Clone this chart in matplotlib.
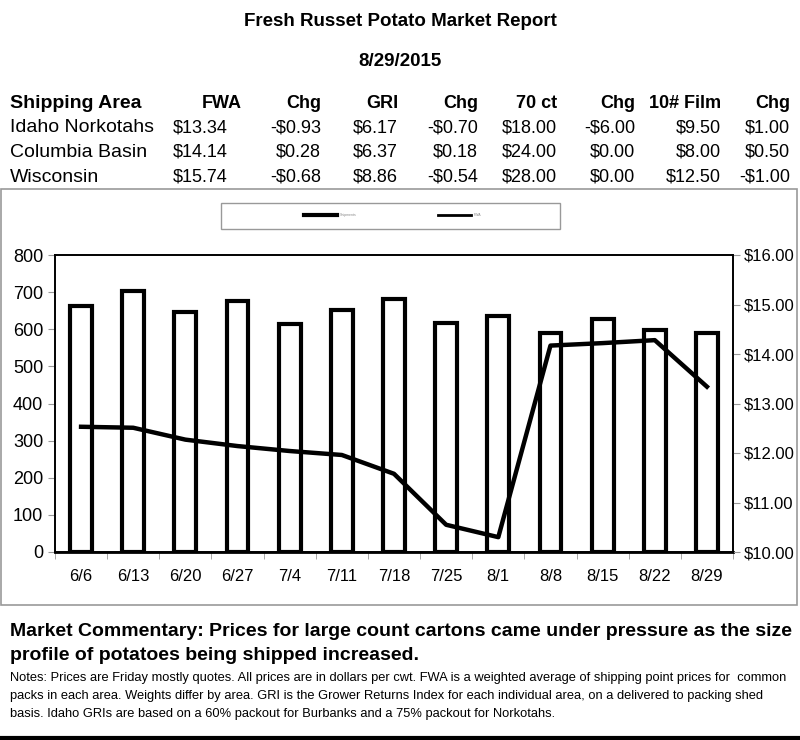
import matplotlib
matplotlib.use("Agg")
import matplotlib.pyplot as plt
from matplotlib.patches import Rectangle
from matplotlib.lines import Line2D
from matplotlib.ticker import FuncFormatter

plt.rcParams['font.family'] = ['Liberation Sans', 'DejaVu Sans']

weeks = ['6/6', '6/13', '6/20', '6/27', '7/4', '7/11', '7/18', '7/25', '8/1', '8/8', '8/15', '8/22', '8/29']
shipments = [662, 702, 646, 676, 615, 652, 681, 618, 637, 590, 628, 598, 590]
fwa_idaho = [12.53, 12.51, 12.27, 12.14, 12.04, 11.96, 11.58, 10.55, 10.30, 14.17, 14.22, 14.28, 13.34]

table_header = ['Shipping Area', 'FWA', 'Chg', 'GRI', 'Chg', '70 ct', 'Chg', '10# Film', 'Chg']
areas = ['Idaho Norkotahs', 'Columbia Basin', 'Wisconsin']
table_rows = [
    ['$13.34', '-$0.93', '$6.17', '-$0.70', '$18.00', '-$6.00', '$9.50', '$1.00'],
    ['$14.14', '$0.28', '$6.37', '$0.18', '$24.00', '$0.00', '$8.00', '$0.50'],
    ['$15.74', '-$0.68', '$8.86', '-$0.54', '$28.00', '$0.00', '$12.50', '-$1.00'],
]

W, H = 800, 740
fig = plt.figure(figsize=(W / 100, H / 100), dpi=100)


def fx(x):
    return x / W


def fy(y):
    return 1 - y / H


# title block
fig.text(fx(400), fy(21), 'Fresh Russet Potato Market Report', ha='center', va='center',
         fontsize=13.5, fontweight='bold')
fig.text(fx(400), fy(61), '8/29/2015', ha='center', va='center', fontsize=13.5, fontweight='bold')

# table
head_x = [242, 321, 398, 478, 557, 635, 721, 790]
val_x = [228, 321, 398, 478, 557, 635, 721, 790]
fig.text(fx(10), fy(103), table_header[0], ha='left', va='center', fontsize=14, fontweight='bold')
for lab, x in zip(table_header[1:], head_x):
    fig.text(fx(x), fy(103), lab, ha='right', va='center', fontsize=13, fontweight='bold')
for i, (area, row) in enumerate(zip(areas, table_rows)):
    y = 128 + i * 24.5
    fig.text(fx(10), fy(y), area, ha='left', va='center', fontsize=14)
    for v, x in zip(row, val_x):
        fig.text(fx(x), fy(y), v, ha='right', va='center', fontsize=13)

# chart frame and legend box
fig.patches.append(Rectangle((fx(1), fy(605)), fx(796), (605 - 189) / H, transform=fig.transFigure,
                             fill=False, edgecolor='#999999', linewidth=1.2))
fig.patches.append(Rectangle((fx(221), fy(229)), fx(339), 26 / H, transform=fig.transFigure,
                             fill=False, edgecolor='#999999', linewidth=1.0))
fig.lines.append(Line2D([fx(304), fx(337)], [fy(215), fy(215)], transform=fig.transFigure,
                        color='black', linewidth=3))
fig.text(fx(340), fy(215), 'Shipments', fontsize=2.5, color='#888888', va='center')
fig.lines.append(Line2D([fx(438), fx(471)], [fy(215), fy(215)], transform=fig.transFigure,
                        color='black', linewidth=2))
fig.text(fx(474), fy(215), 'FWA', fontsize=2.5, color='#888888', va='center')

# chart
ax = fig.add_axes([fx(55), fy(552), fx(678), (552 - 255) / H])
x = list(range(len(weeks)))
ax.bar(x, shipments, width=0.42, facecolor='white', edgecolor='black', linewidth=3, zorder=2)
ax.set_xlim(-0.5, len(weeks) - 0.5)
ax.set_ylim(0, 800)
ax.set_yticks(range(0, 801, 100))
ax.set_xticks(x)
ax.set_xticklabels(weeks)
ax.set_xticks([i - 0.5 for i in range(len(weeks) + 1)], minor=True)
ax.tick_params(axis='x', which='major', length=0, labelsize=12, pad=12)
ax.tick_params(axis='x', which='minor', length=5, color='#999999', direction='out')
ax.tick_params(axis='y', length=5, color='#999999', labelsize=13)
for s in ax.spines.values():
    s.set_linewidth(1.2)
ax.spines['bottom'].set_linewidth(2)

ax2 = ax.twinx()
ax2.plot(x, fwa_idaho, color='black', linewidth=3.2, zorder=3)
ax2.set_ylim(10, 16)
ax2.set_yticks(range(10, 17))
ax2.yaxis.set_major_formatter(FuncFormatter(lambda v, p: f'${v:.2f}'))
ax2.tick_params(axis='y', length=5, color='#999999', labelsize=12, pad=3)
for s in ax2.spines.values():
    s.set_linewidth(1.2)

# commentary and notes
fig.text(fx(10), fy(631), 'Market Commentary: Prices for large count cartons came under pressure as the size',
         fontsize=14, fontweight='bold', va='center')
fig.text(fx(10), fy(656), 'profile of potatoes being shipped increased.',
         fontsize=14, fontweight='bold', va='center')
notes = [
    'Notes: Prices are Friday mostly quotes. All prices are in dollars per cwt. FWA is a weighted average of shipping point prices for  common',
    'packs in each area. Weights differ by area. GRI is the Grower Returns Index for each individual area, on a delivered to packing shed',
    'basis. Idaho GRIs are based on a 60% packout for Burbanks and a 75% packout for Norkotahs.',
]
for i, line in enumerate(notes):
    fig.text(fx(10), fy(678 + i * 18), line, fontsize=9.3, va='center')

fig.lines.append(Line2D([0, 1], [fy(738), fy(738)], transform=fig.transFigure, color='black', linewidth=3))

fig.savefig('out.png', dpi=100)
